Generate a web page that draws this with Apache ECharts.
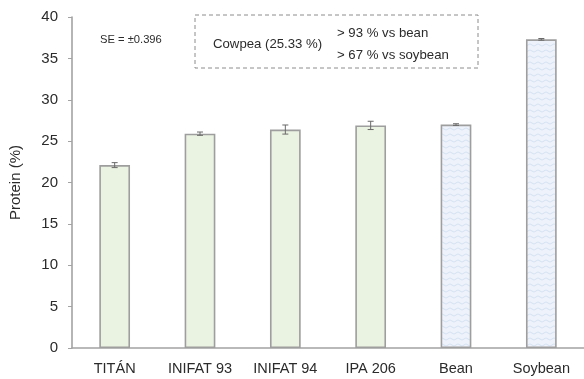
<!DOCTYPE html>
<html>
<head>
<meta charset="utf-8">
<script src="https://cdn.jsdelivr.net/npm/echarts@6/dist/echarts.min.js"></script>
<style>
  html, body { margin: 0; padding: 0; background: #fff; }
  #chart { width: 584px; height: 379px; }
</style>
</head>
<body>
<div id="chart"></div>
<script>
// Protein content by cultivar / legume
const categories = ['TITÁN', 'INIFAT 93', 'INIFAT 94', 'IPA 206', 'Bean', 'Soybean'];
const protein = [22.1, 25.9, 26.4, 26.9, 27.0, 37.3];
const errors = [0.3, 0.2, 0.55, 0.5, 0.1, 0.1];
const cowpeaCount = 4; // first four are cowpea cultivars
const yTicks = { min: 0, max: 40, interval: 5 };

const FONT = '"Liberation Sans", Arial, sans-serif';
const TEXT = '#2b2b2b';

// Wavy texture used for the reference legumes
function wavePattern() {
  const c = document.createElement('canvas');
  c.width = 8; c.height = 6;
  const g = c.getContext('2d');
  g.fillStyle = '#eef3fb';
  g.fillRect(0, 0, 8, 6);
  g.strokeStyle = '#d5e1f2';
  g.lineWidth = 1;
  g.beginPath();
  g.moveTo(0, 3);
  g.quadraticCurveTo(2, 0.8, 4, 3);
  g.quadraticCurveTo(6, 5.2, 8, 3);
  g.stroke();
  return c;
}
const wave = { image: wavePattern(), repeat: 'repeat' };

const barData = protein.map((v, i) => ({
  value: v,
  itemStyle: {
    color: i < cowpeaCount ? '#eaf2e1' : wave,
    borderColor: '#9e9e9e',
    borderWidth: 1.6
  }
}));

const errData = protein.map((v, i) => [i, v - errors[i], v + errors[i]]);

function note(text, x, y, size) {
  return {
    type: 'text', x: x, y: y,
    style: { text: text, fill: TEXT, fontSize: size, fontFamily: FONT, verticalAlign: 'middle', align: 'left' }
  };
}

const chart = echarts.init(document.getElementById('chart'), null, { renderer: 'canvas' });
chart.setOption({
  animation: false,
  grid: { left: 72, right: -2, top: 17, bottom: 31, containLabel: false },
  xAxis: {
    type: 'category',
    data: categories,
    axisLine: { lineStyle: { color: '#a3a3a3', width: 1.6 } },
    axisTick: { alignWithLabel: true, length: 4, lineStyle: { color: '#a3a3a3' } },
    axisLabel: { color: TEXT, fontSize: 14.5, fontFamily: FONT, margin: 13, interval: 0, hideOverlap: false }
  },
  yAxis: {
    type: 'value',
    min: yTicks.min, max: yTicks.max, interval: yTicks.interval,
    name: 'Protein (%)',
    nameLocation: 'middle',
    nameGap: 49,
    nameTextStyle: { color: TEXT, fontSize: 15, fontFamily: FONT },
    splitLine: { show: false },
    axisLine: { show: true, lineStyle: { color: '#a3a3a3', width: 1.6 } },
    axisTick: { show: true, length: 4, lineStyle: { color: '#a3a3a3' } },
    axisLabel: { color: TEXT, fontSize: 15, fontFamily: FONT, margin: 14 }
  },
  series: [
    {
      type: 'bar',
      data: barData,
      barWidth: '36%'
    },
    {
      type: 'custom',
      data: errData,
      z: 10,
      renderItem: function (params, api) {
        const x = api.value(0);
        const lo = api.coord([x, api.value(1)]);
        const hi = api.coord([x, api.value(2)]);
        const cap = 3;
        const style = { stroke: '#6a6a6a', lineWidth: 1 };
        return {
          type: 'group',
          children: [
            { type: 'line', shape: { x1: lo[0], y1: lo[1], x2: hi[0], y2: hi[1] }, style: style },
            { type: 'line', shape: { x1: lo[0] - cap, y1: lo[1], x2: lo[0] + cap, y2: lo[1] }, style: style },
            { type: 'line', shape: { x1: hi[0] - cap, y1: hi[1], x2: hi[0] + cap, y2: hi[1] }, style: style }
          ]
        };
      }
    }
  ],
  graphic: [
    note('SE = ±0.396', 100, 40, 11.2),
    {
      type: 'rect', x: 195, y: 15,
      shape: { width: 283, height: 53 },
      style: { fill: 'none', stroke: '#8c8c8c', lineWidth: 1, lineDash: [4, 3] }
    },
    note('Cowpea (25.33 %)', 213, 44, 13.2),
    note('> 93 % vs bean', 337, 33, 13.2),
    note('> 67 % vs soybean', 337, 55, 13.2)
  ]
});
</script>
</body>
</html>
